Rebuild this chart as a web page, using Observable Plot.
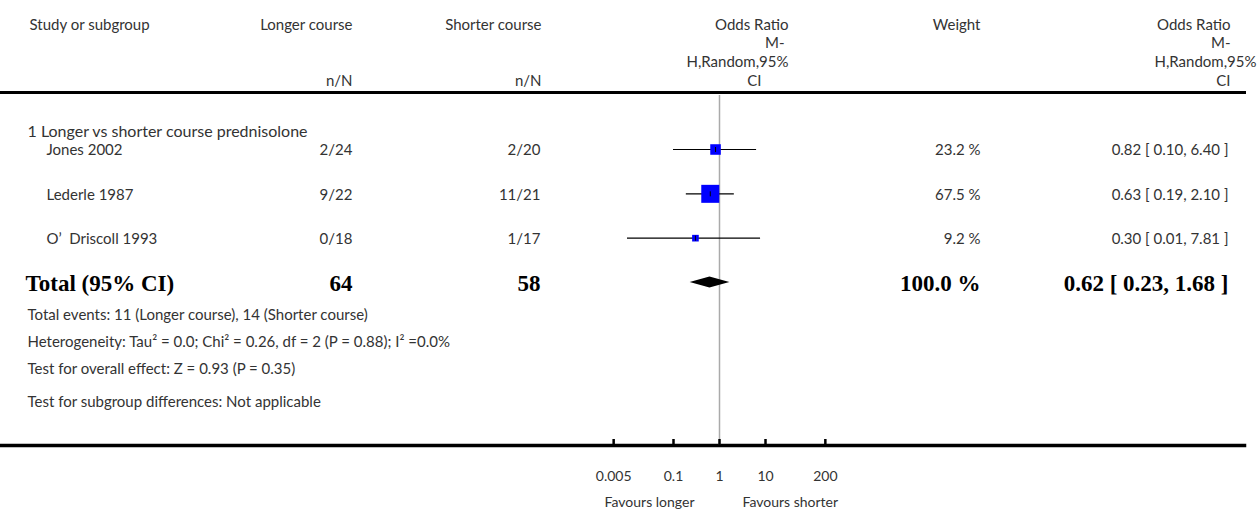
<!DOCTYPE html>
<html><head><meta charset="utf-8">
<script src="https://cdn.jsdelivr.net/npm/d3@7"></script>
<script src="https://cdn.jsdelivr.net/npm/@observablehq/plot@0.6"></script>
<style>html,body{margin:0;padding:0;background:#fff} svg{display:block}</style>
</head><body><div id="chart"></div>
<script>
// ---- data ----
const headers = ["Study or subgroup", "Longer course", "Shorter course", "Weight"];
const orHeader = ["Odds Ratio", "M-", "H,Random,95%", "CI"];
const subgroup = "1 Longer vs shorter course prednisolone";
const studies = ["Jones 2002", "Lederle 1987", "O\u2019  Driscoll 1993"];
const longerEvents = ["2/24", "9/22", "0/18"];
const shorterEvents = ["2/20", "11/21", "1/17"];
const oddsRatio = [0.82, 0.63, 0.30];
const ciLow = [0.10, 0.19, 0.01];
const ciHigh = [6.40, 2.10, 7.81];
const weights = [23.2, 67.5, 9.2];
const totalLabel = "Total (95% CI)";
const totalLonger = 64, totalShorter = 58, totalWeight = 100.0;
const totalOR = 0.62, totalLow = 0.23, totalHigh = 1.68;
const footnotes = [
  "Total events: 11 (Longer course), 14 (Shorter course)",
  "Heterogeneity: Tau\u00B2 = 0.0; Chi\u00B2 = 0.26, df = 2 (P = 0.88); I\u00B2 =0.0%",
  "Test for overall effect: Z = 0.93 (P = 0.35)",
  "Test for subgroup differences: Not applicable"
];
const tickValues = [0.005, 0.1, 1, 10, 200];
const tickLabels = ["0.005", "0.1", "1", "10", "200"];
const favours = ["Favours longer", "Favours shorter"];

// ---- layout ----
const W = 1259, H = 514, TOP = 92, BOTTOM = 445, LEFT = 0, RIGHT = 1244;
const REFX = 719, PER_DECADE = 46;
const SANS = "Lato, 'Noto Sans', sans-serif";
const SERIF = "'Liberation Serif', 'DejaVu Serif', serif";
const TXT = "#333";
const FS = 15;

const fmt2 = v => v.toFixed(2);
const rows = studies.map((s, i) => ({
  row: i + 1, study: s, longer: longerEvents[i], shorter: shorterEvents[i],
  or: oddsRatio[i], lo: ciLow[i], hi: ciHigh[i], weight: weights[i],
  wText: weights[i].toFixed(1) + " %",
  ciText: `${fmt2(oddsRatio[i])} [ ${fmt2(ciLow[i])}, ${fmt2(ciHigh[i])} ]`
}));
const totalRow = [{
  row: studies.length + 1, label: totalLabel, longer: String(totalLonger), shorter: String(totalShorter),
  wText: totalWeight.toFixed(1) + " %",
  ciText: `${fmt2(totalOR)} [ ${fmt2(totalLow)}, ${fmt2(totalHigh)} ]`
}];
const DIAMOND_HALF = 0.125; // half height in row units
const diamond = [
  {x: totalLow, y1: totalRow[0].row, y2: totalRow[0].row},
  {x: totalOR, y1: totalRow[0].row - DIAMOND_HALF, y2: totalRow[0].row + DIAMOND_HALF},
  {x: totalHigh, y1: totalRow[0].row, y2: totalRow[0].row}
];

const vTick = {draw(ctx, size) { const h = Math.sqrt(size / Math.PI); ctx.moveTo(0, -h); ctx.lineTo(0, h); }};

const marks = [];
function headerText(text, xAbs, yAbs, anchor, opts = {}) {
  marks.push(Plot.text([text], {text: d => d, frameAnchor: "top-left", dx: xAbs - LEFT, dy: yAbs - TOP,
    textAnchor: anchor, fill: TXT, fontSize: FS, fontFamily: SANS, ...opts}));
}
// header
const hY = 19, nY = 75;
headerText(headers[0], 29, hY, "start");
headerText(headers[1], 352, hY, "end");
headerText(headers[2], 541, hY, "end");
headerText("n/N", 352, nY, "end");
headerText("n/N", 541, nY, "end");
headerText(headers[3], 980, hY, "end");
const orY = [19, 37, 56, 75];
const orRightCenter = [788, 784, 788, 761];
const orRightRight = [1230, 1230, 1256, 1230];
orHeader.forEach((t, i) => {
  headerText(t, orRightCenter[i], orY[i], "end");
  headerText(t, orRightRight[i], orY[i], "end");
});
// subgroup
headerText(subgroup, 27, 125, "start", {fontSize: 16});
// footnotes
const footY = [309, 336, 363, 396];
footnotes.forEach((t, i) => headerText(t, 27, footY[i], "start"));

// lines & forest
marks.push(
  Plot.frame({anchor: "top", stroke: "#000", strokeWidth: 3}),
  Plot.frame({anchor: "bottom", stroke: "#000", strokeWidth: 3.5}),
  Plot.ruleX([1], {stroke: "#aaa", strokeWidth: 1.5, insetTop: 3}),
  Plot.ruleY(rows, {y: "row", x1: "lo", x2: "hi", stroke: "#000", strokeWidth: 1.2}),
  Plot.dot(rows, {x: "or", y: "row", r: "weight", symbol: "square", fill: "#0000ff", stroke: "none"}),
  Plot.dot(rows, {x: "or", y: "row", r: 2.5, symbol: vTick, fill: "none", stroke: "#000", strokeWidth: 1}),
  Plot.area(diamond, {x1: "x", y1: "y1", y2: "y2", fill: "#000"}),
  Plot.ruleX(tickValues, {insetTop: BOTTOM - TOP - 6, stroke: "#000", strokeWidth: 2.5}),
  Plot.text(tickValues, {x: d => d, text: (d, i) => tickLabels[i], frameAnchor: "bottom", dy: 35,
    fill: TXT, fontSize: 14, fontFamily: SANS}),
  Plot.text([favours[0]], {x: () => 1, text: d => d, frameAnchor: "bottom", dy: 61, dx: -25,
    textAnchor: "end", fill: TXT, fontSize: 14, fontFamily: SANS}),
  Plot.text([favours[1]], {x: () => 1, text: d => d, frameAnchor: "bottom", dy: 61, dx: 23,
    textAnchor: "start", fill: TXT, fontSize: 14, fontFamily: SANS})
);

// study rows
const rowText = (data, field, xAbs, anchor, opts = {}) => Plot.text(data, {y: "row", text: field,
  frameAnchor: "left", dx: xAbs - LEFT, dy: 1, textAnchor: anchor, fill: TXT, fontSize: FS, fontFamily: SANS, ...opts});
marks.push(
  rowText(rows, "study", 46, "start"),
  rowText(rows, "longer", 352, "end"),
  rowText(rows, "shorter", 540, "end"),
  rowText(rows, "wText", 980, "end"),
  rowText(rows, "ciText", 1228, "end")
);
const bold = {fontFamily: SERIF, fontWeight: "bold", fontSize: 23, fill: "#000"};
marks.push(
  rowText(totalRow, "label", 25, "start", bold),
  rowText(totalRow, "longer", 352, "end", bold),
  rowText(totalRow, "shorter", 540, "end", bold),
  rowText(totalRow, "wText", 980, "end", bold),
  rowText(totalRow, "ciText", 1228, "end", bold)
);

const chart = Plot.plot({
  width: W, height: H,
  marginTop: TOP, marginBottom: H - BOTTOM, marginLeft: LEFT, marginRight: W - RIGHT,
  style: {fontFamily: SANS, background: "#fff", overflow: "visible"},
  x: {type: "log", domain: [10 ** (-(REFX - LEFT) / PER_DECADE), 10 ** ((RIGHT - REFX) / PER_DECADE)], axis: null},
  y: {domain: [1, 4], range: [149, 282], axis: null},
  r: {type: "sqrt", domain: [0, d3.max(weights)], range: [0, 18 / Math.sqrt(Math.PI)]},
  marks
});
document.getElementById("chart").appendChild(chart);
</script>
</body></html>
